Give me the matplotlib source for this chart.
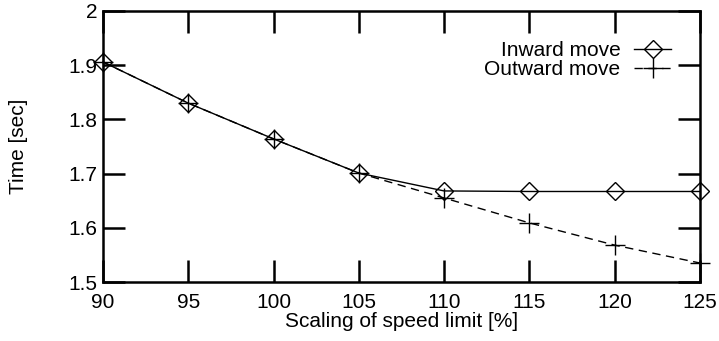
import matplotlib
matplotlib.use("Agg")
import matplotlib.pyplot as plt

plt.rcParams['font.family'] = ['Liberation Sans', 'DejaVu Sans']

# data
speed_scale = [90, 95, 100, 105, 110, 115, 120, 125]
inward_time = [1.906, 1.830, 1.764, 1.701, 1.668, 1.667, 1.667, 1.667]
outward_time = [1.906, 1.830, 1.764, 1.701, 1.655, 1.609, 1.568, 1.535]

fig = plt.figure(figsize=(7.19, 3.41), dpi=100)
ax = fig.add_axes([103 / 719, 1 - 282 / 341, 597 / 719, 271 / 341])

ax.plot(speed_scale, inward_time, color='black', lw=1.0, marker='D',
        ms=9, mfc='none', mec='black', mew=1.0, label='Inward move',
        clip_on=False, zorder=3)
ax.plot(speed_scale, outward_time, color='black', lw=1.0, ls=(0, (6, 4)),
        marker='+', ms=14, mew=1.0, label='Outward move', clip_on=False,
        zorder=3)

ax.set_xlim(90, 125)
ax.set_ylim(1.5, 2.0)
ax.set_xticks(speed_scale)
ax.set_yticks([1.5, 1.6, 1.7, 1.8, 1.9, 2.0])
ax.set_yticklabels(['1.5', '1.6', '1.7', '1.8', '1.9', '2'])
ax.tick_params(direction='in', length=16, width=1.8, labelsize=15,
               top=True, right=True)
ax.tick_params(axis='x', pad=8)
ax.tick_params(axis='y', pad=4)
for sp in ax.spines.values():
    sp.set_linewidth(1.8)

ax.set_xlabel('Scaling of speed limit [%]', fontsize=15)
ax.set_ylabel('Time [sec]', fontsize=15)
ax.xaxis.set_label_coords(0.5, -0.112)
ax.yaxis.set_label_coords(-0.125, 0.5)

ax.legend(loc='upper right', bbox_to_anchor=(0.952, 0.888), frameon=False,
          markerfirst=False, fontsize=15, handlelength=1.8,
          labelspacing=0.0, handletextpad=0.65, borderaxespad=0,
          borderpad=0)

fig.savefig('out.png', dpi=100)
